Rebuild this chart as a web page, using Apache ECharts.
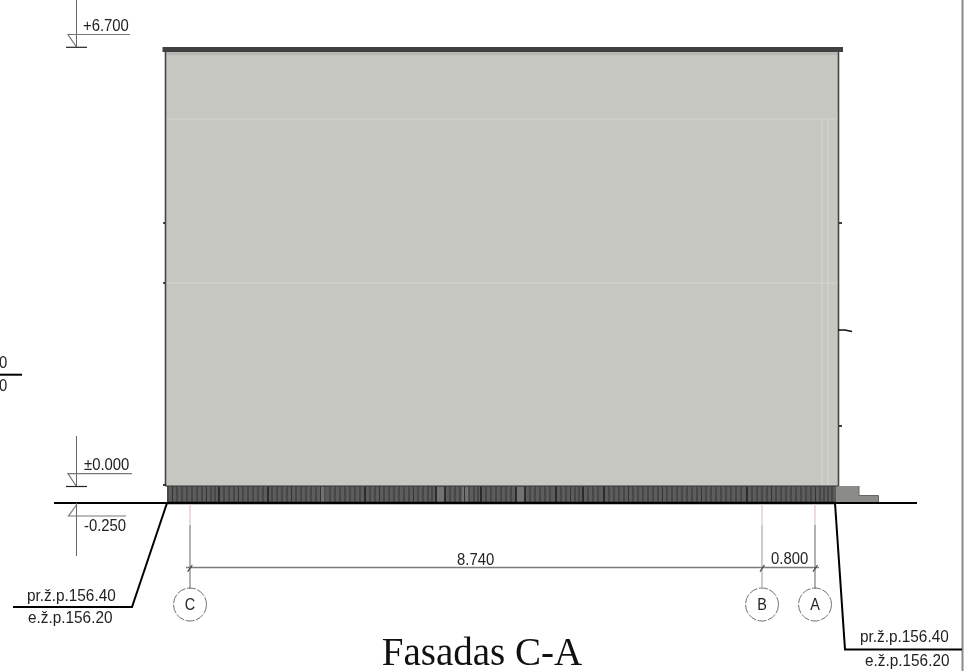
<!DOCTYPE html>
<html><head><meta charset="utf-8">
<style>html,body{margin:0;padding:0;background:#fff}#c{width:966px;height:671px;filter:blur(0.35px)}</style>
<script src="https://cdn.jsdelivr.net/npm/echarts@6/dist/echarts.min.js"></script>
</head><body><div id="c"></div>
<script>
// Drawing geometry, in drawing units
const wallFace = [[165, 50, 838.5, 486]];
const wallTopBand = [[166, 52, 838, 55]];
const parapet = [[162.5, 47, 843, 52]];
const plinth = [[167, 486, 836, 503]];
const plinthLightBays = [[437, 487, 444.5, 502], [516.5, 487, 524.5, 502], [462, 487, 469, 502], [320, 487, 326, 502]];
const stepUpper = [[836, 486, 859, 503]];
const stepLower = [[859, 495.5, 878.5, 503]];
const plinthJoints = [168,172.5,177,182,187,192,197,202,206.5,211,215,224,229,234,238.5,243,248,253,258,263,272,277,282,287,291.5,296,301,306,311,316,320.5,325,330,335,340,345,350,355,360,370,375,379.5,384,389,394,399,404,409,413.5,418,423,428,432,450,455,460,464.5,469,474,478,486,491,496,501,506,511,530,535,540,545,550,561,566,570.5,575,579,588,593,598,609,614,619,624,628.5,633,638,643,648,653,658,662.5,667,672,677,682,687,692,697,701.5,706,711,716,721,726,731,736,741,752,757,762,767,771.5,776,781,786,791,796,801,806,811,815.5,820,824,828,832];
const plinthStrongJoints = [219,268,365,436,445,481,516,525,556,583,604,747];
const facadeSeams = [[[166,119],[838,119]], [[166,283],[838,283]], [[822,119],[822,486]], [[828,119],[828,486]]];
const wallEdges = [[[165.5,52],[165.5,486]], [[838.5,52],[838.5,486]]];
const wallStubs = [[[163,223],[165,223]], [[163,283],[165,283]], [[163,485],[166,485]], [[839,223],[842,223]], [[838,330],[845,330],[852,331.5]], [[839,426],[842,426]]];
const groundLine = [[54,503],[917,503]];
const plinthBase = [[167,503],[836,503]];
const plinthTop = [[165,486],[838,486]];
const stepEdges = [[[859,486],[859,495.5],[878.5,495.5],[878.5,503]]];
const leaderLeft = [[167,503],[132,607],[13,607]];
const leaderRight = [[835,503],[845,649.5],[962,649.5]];
const sheetEdge = [[962.5,0],[962.5,671]];
const stubDivider = [[0,374.7],[22,374.7]];
const levelStems = [[[76.5,0],[76.5,47]], [[76.5,436],[76.5,486.5]], [[76.5,503],[76.5,556]]];
const levelFlags = [[[130,34.5],[68,34.5],[76.5,47]], [[132,473.7],[68,473.7],[76.5,486.5]], [[126,516],[68.5,516],[76.5,505]]];
const levelBars = [[[66,47.3],[87,47.3]], [[66,486.5],[87,486.5]]];
const gridStrongLines = [[[190,525],[190,589]], [[815,525],[815,589]]];
const gridFaintLines = [[[762,525],[762,589]]];
const gridPinkLines = [[[190,504],[190,525]], [[762,504],[762,525]], [[815,504],[815,525]]];
const dimensionLine = [[186,567.5],[819,567.5]];
const dimensionSlashes = [[[187.7,571.7],[192.3,565]], [[760,571.7],[764.5,565]], [[813,571.7],[817.5,565]]];
const gridBubbles = [[190,604.5],[762,604.5],[815,604.5]];

// Texts and their baselines
const levelLabels = ['+6.700','\u00B10.000','-0.250','8.740','0.800','0','0'];
const levelLabelAnchors = [[83,32.5],[84,471.5],[84,532.5],[457,566.5],[771,565.5],[-1,369],[-1,392.5]];
const elevationLabels = ['pr.\u017E.p.156.40','e.\u017E.p.156.20','pr.\u017E.p.156.40','e.\u017E.p.156.20'];
const elevationLabelAnchors = [[27,602.5],[28,624.5],[860,643.5],[865,667]];
const bubbleLabels = ['C','B','A'];
const bubbleLabelAnchors = [[190,611],[762,611],[815,611]];
const titleText = ['Fasadas C-A'];
const titleAnchor = [[482,668]];

const rects = (name, data, color) => ({
  name, type:'custom', data, clip:false, silent:true, animation:false,
  renderItem(p, api){
    const a = api.coord([api.value(0), api.value(1)]), b = api.coord([api.value(2), api.value(3)]);
    return {type:'rect', shape:{x:a[0], y:a[1], width:b[0]-a[0], height:b[1]-a[1]}, style:{fill:color}};
  }
});
const line = (name, pts, color, width) => ({
  name, type:'line', data:pts, showSymbol:false, symbol:'none', silent:true, animation:false, clip:false,
  lineStyle:{color, width, cap:'butt', join:'miter'}, emphasis:{disabled:true}
});
const lines = (name, list, color, width) => list.map((pts,i) => line(name+i, pts, color, width));
const joints = (name, xs, color, width) => ({
  name, type:'custom', data:xs.map(x => [x]), clip:false, silent:true, animation:false,
  renderItem(p, api){
    const a = api.coord([api.value(0), 486.5]), b = api.coord([api.value(0), 502.5]);
    return {type:'line', shape:{x1:a[0], y1:a[1], x2:b[0], y2:b[1]}, style:{stroke:color, lineWidth:width}};
  }
});
const texts = (name, labels, anchors, size, family, scaleX, align, color) => ({
  name, type:'custom', data:anchors, clip:false, silent:true, animation:false,
  renderItem(p, api){
    const a = api.coord([api.value(0), api.value(1)]);
    return {type:'text', x:a[0], y:a[1] - 0.34*size, scaleX, style:{text:labels[p.dataIndex], x:0, y:0, font:size+'px "'+family+'"', fill:color, align, verticalAlign:'middle'}};
  }
});
const bubbles = {
  name:'gridBubbles', type:'custom', data:gridBubbles, clip:false, silent:true, animation:false,
  renderItem(p, api){
    const a = api.coord([api.value(0), api.value(1)]);
    return {type:'circle', shape:{cx:a[0], cy:a[1], r:16.5}, style:{fill:'#fff', stroke:'#7a7176', lineWidth:1, lineDash:[9,1.6]}};
  }
};

const chart = echarts.init(document.getElementById('c'), null, {renderer:'canvas'});
chart.setOption({
  animation:false, backgroundColor:'#fff', tooltip:{show:false}, legend:{show:false},
  grid:{left:0, right:0, top:0, bottom:0},
  xAxis:{type:'value', min:0, max:966, show:false},
  yAxis:{type:'value', min:0, max:671, inverse:true, show:false},
  series:[
    rects('wallFace', wallFace, '#c7c7c1'),
    rects('wallTopBand', wallTopBand, '#b8b8b5'),
    ...lines('seam', facadeSeams, '#d5d5cf', 1.2),
    rects('plinth', plinth, '#5c5c5c'),
    rects('plinthLightBays', plinthLightBays, '#727272'),
    joints('joints', plinthJoints, '#333', 1),
    joints('strongJoints', plinthStrongJoints, '#111', 1.3),
    rects('stepUpper', stepUpper, '#8b8b87'),
    rects('stepLower', stepLower, '#8b8b87'),
    ...lines('stepEdge', stepEdges, '#666', 1),
    rects('parapet', parapet, '#404040'),
    ...lines('wallEdge', wallEdges, '#454545', 1.6),
    ...lines('stub', wallStubs, '#111', 1.6),
    line('plinthTop', plinthTop, '#333', 1),
    line('sheetEdge', sheetEdge, '#8a8a8a', 2),
    line('groundLine', groundLine, '#000', 2),
    line('plinthBase', plinthBase, '#000', 2.4),
    line('leaderLeft', leaderLeft, '#000', 2),
    line('leaderRight', leaderRight, '#000', 2),
    line('stubDivider', stubDivider, '#000', 2),
    ...lines('levelStem', levelStems, '#666', 1),
    ...lines('levelFlag', levelFlags, '#777', 1.2),
    ...lines('levelBar', levelBars, '#222', 1.2),
    ...lines('gridStrong', gridStrongLines, '#666', 1),
    ...lines('gridFaint', gridFaintLines, '#aaa', 1.2),
    ...lines('gridPink', gridPinkLines, '#dcc4cc', 1.2),
    line('dimensionLine', dimensionLine, '#7c7c7c', 1.5),
    ...lines('dimensionSlash', dimensionSlashes, '#444', 1.2),
    bubbles,
    texts('levelLabels', levelLabels, levelLabelAnchors, 16.5, 'Liberation Sans', 0.9, 'left', '#222'),
    texts('elevationLabels', elevationLabels, elevationLabelAnchors, 16.5, 'Liberation Sans', 0.93, 'left', '#222'),
    texts('bubbleLabels', bubbleLabels, bubbleLabelAnchors, 16, 'Liberation Sans', 0.9, 'center', '#222'),
    texts('title', titleText, titleAnchor, 39, 'Liberation Serif', 1, 'center', '#111')
  ]
});
</script></body></html>
